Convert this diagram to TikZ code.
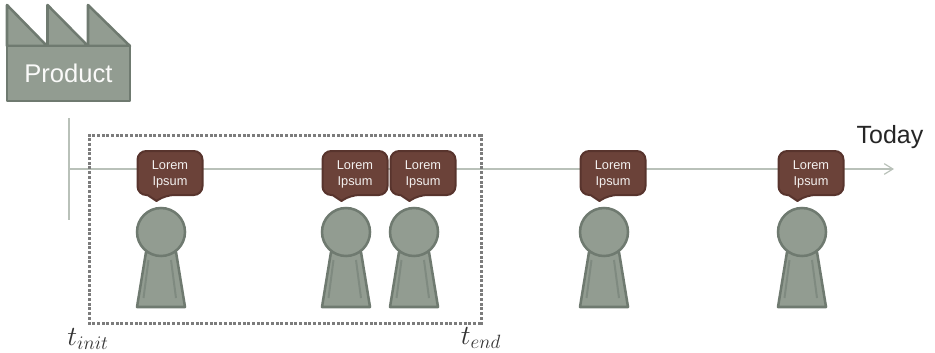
\documentclass[tikz,border=0pt]{standalone}
\usepackage{fontspec}
\setmainfont{Liberation Sans}
\usetikzlibrary{arrows.meta}
\definecolor{pawnfill}{HTML}{929C91}
\definecolor{pawnline}{HTML}{6F7A70}
\definecolor{innerline}{HTML}{7F8A80}
\definecolor{bubblefill}{HTML}{6B4239}
\definecolor{bubbleline}{HTML}{58342D}
\definecolor{axisline}{HTML}{B9C1B9}
\definecolor{dotline}{HTML}{7C7C7C}
\tikzset{
  x=0.75pt,y=-0.75pt,
  shapeline/.style={draw=pawnline,fill=pawnfill,line width=1.9pt,line join=round},
  bubbleshape/.style={draw=bubbleline,fill=bubblefill,line width=1.5pt,line join=round},
  bubbletext/.style={text=white!92!bubblefill,font=\fontsize{9.6pt}{12pt}\selectfont,align=center,inner sep=0pt},
  axisstyle/.style={draw=axisline,line width=0.9pt},
  dotsquare/.style={fill=dotline,draw=none},
  pics/pawn/.style={code={
    \draw[shapeline] (-24,75) -- (-15,20) -- (15,20) -- (24,75) -- cycle;
    \draw[draw=innerline,line width=1.5pt] (-12.5,28) -- (-17.5,66) (10,28) -- (15,66);
    \draw[shapeline] (0,0) circle (24);
  }},
  pics/bubble/.style={code={
    \draw[bubbleshape,rounded corners=6.5pt] (0,0) -- (65,0) -- (65,44) -- (28,44) [sharp corners] -- (19,50) -- (10,44) [rounded corners=6.5pt] -- (0,44) -- cycle;
    \node[bubbletext] at (32.5,23) {Lorem\\Ipsum};
  }}
}
\begin{document}
\begin{tikzpicture}
\useasboundingbox (0,0) rectangle (935,353);
% factory
\draw[shapeline] (7,5) -- (47,46) -- (7,46) -- cycle;
\draw[shapeline] (47.5,5) -- (88,46) -- (47.5,46) -- cycle;
\draw[shapeline] (88,5) -- (130,46) -- (88,46) -- cycle;
\draw[shapeline] (7,46) rectangle (130,101);
\node[inner sep=0pt,text=white!95!pawnfill,font=\fontsize{19.2pt}{22pt}\selectfont] (product) at (68.5,73) {Product};
% axes
\coordinate (axisstart) at (69,169);
\coordinate (axisend) at (894,169);
\coordinate (vtop) at (69,118);
\coordinate (vbot) at (69,220);
\draw[axisstyle] (vtop) -- (vbot);
\draw[axisstyle,-{Straight Barb[length=6.5pt,width=8pt]}] (axisstart) -- (axisend);
% observation window, drawn as separate square dots
\foreach \i in {0,...,83}{
  \fill[dotsquare] ({87.5+\i*4.7},133.5) rectangle +(3,3);
  \fill[dotsquare] ({87.5+\i*4.7},321.5) rectangle +(3,3);
}
\foreach \i in {0,...,40}{
  \fill[dotsquare] (87.5,{133.5+\i*4.7}) rectangle +(3,3);
  \fill[dotsquare] (479.5,{133.5+\i*4.7}) rectangle +(3,3);
}
% pawns and bubbles
\foreach \x in {137.5,322.5,390.5,580.5,778.5}{
  \pic at (\x+23.5,232) {pawn};
  \pic at (\x,151) {bubble};
}
% labels
\node[font=\fontsize{18.7pt}{22pt}\selectfont,text=black!85,inner sep=0pt] (today) at (890,137) {Today};
\node[inner sep=0pt,font=\fontsize{21pt}{24pt}\selectfont,text=black!80] (tinit) at (88,339) {$t_{init}$};
\node[inner sep=0pt,font=\fontsize{21pt}{24pt}\selectfont,text=black!80] (tend) at (481,338) {$t_{end}$};
\end{tikzpicture}
\end{document}
